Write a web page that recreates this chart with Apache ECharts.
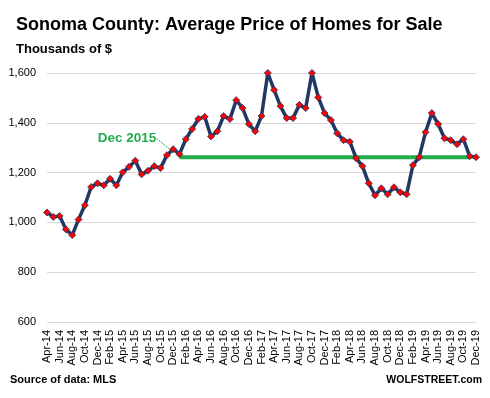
<!DOCTYPE html>
<html>
<head>
<meta charset="utf-8">
<script src="https://cdn.jsdelivr.net/npm/echarts@6/dist/echarts.min.js"></script>
<style>
  html, body { margin: 0; padding: 0; background: #fff; }
  #chart { width: 490px; height: 398px; }
</style>
</head>
<body>
<div id="chart"></div>
<script>
const months = [];
const monthNames = ['Jan', 'Feb', 'Mar', 'Apr', 'May', 'Jun', 'Jul', 'Aug', 'Sep', 'Oct', 'Nov', 'Dec'];
for (let y = 14; y <= 19; y++) {
  for (let m = 0; m < 12; m++) {
    if (y === 14 && m < 3) continue;
    months.push(monthNames[m] + '-' + y);
  }
}

// average price, thousands of $
const prices = [
  1040, 1022, 1026, 972, 949, 1012, 1069, 1142, 1157,
  1149, 1175, 1149, 1201, 1223, 1248, 1193, 1207, 1226, 1218, 1270, 1294,
  1274, 1334, 1375, 1416, 1424, 1345, 1366, 1427, 1415, 1491, 1459, 1395,
  1366, 1427, 1600, 1532, 1467, 1419, 1419, 1472, 1459, 1600, 1502, 1439,
  1411, 1358, 1330, 1324, 1258, 1226, 1157, 1109, 1137, 1113, 1141, 1121,
  1113, 1230, 1262, 1362, 1439, 1395, 1338, 1330, 1314, 1334, 1266, 1262
];

const refLevel = 1262;
const refStart = 'Jan-16';
const refEnd = 'Nov-19';
const yTicks = [600, 800, 1000, 1200, 1400, 1600];

const navy = '#203864';
const green = '#21ad4b';
const font = 'Liberation Sans';

const refData = months.map((m, i) => {
  const a = months.indexOf(refStart), b = months.indexOf(refEnd);
  return (i >= a && i <= b) ? refLevel : null;
});

const priceData = prices.map((v, i) => {
  if (months[i] === 'Dec-15') {
    return {
      value: v,
      label: {
        show: true,
        formatter: 'Dec 2015',
        position: 'left',
        color: green,
        fontFamily: font,
        fontWeight: 'bold',
        fontSize: 13.5
      },
      labelLine: { show: true, lineStyle: { color: green, width: 1, type: [2, 1] } }
    };
  }
  return v;
});

const chart = echarts.init(document.getElementById('chart'), null, { renderer: 'canvas' });
chart.setOption({
  animation: false,
  backgroundColor: '#fff',
  title: [
    {
      text: 'Sonoma County: Average Price of Homes for Sale',
      left: 16, top: 16, padding: 0,
      textStyle: { fontFamily: font, fontWeight: 'bold', fontSize: 18, color: '#000' }
    },
    {
      text: 'Thousands of $',
      left: 16, top: 43, padding: 0,
      textStyle: { fontFamily: font, fontWeight: 'bold', fontSize: 13, color: '#000' }
    },
    {
      text: 'Source of data: MLS',
      left: 10, top: 374, padding: 0,
      textStyle: { fontFamily: font, fontWeight: 'bold', fontSize: 11, color: '#000' }
    },
    {
      text: 'WOLFSTREET.com',
      right: 8, top: 375, padding: 0,
      textStyle: { fontFamily: font, fontWeight: 'bold', fontSize: 10.5, color: '#000' }
    }
  ],
  grid: { left: 47, right: 14, top: 73, bottom: 76 },
  xAxis: {
    type: 'category',
    data: months,
    boundaryGap: false,
    axisLine: { show: false },
    axisTick: { show: false },
    axisLabel: {
      interval: 1,
      rotate: 90,
      margin: 8,
      fontFamily: font,
      fontSize: 11,
      color: '#000'
    },
    splitLine: { show: false }
  },
  yAxis: {
    type: 'value',
    min: yTicks[0],
    max: yTicks[yTicks.length - 1],
    interval: 200,
    axisLine: { show: false },
    axisTick: { show: false },
    axisLabel: {
      margin: 11,
      fontFamily: font,
      fontSize: 11,
      color: '#000',
      formatter: v => v.toLocaleString('en-US')
    },
    splitLine: { lineStyle: { color: '#d9d9d9', width: 1 } }
  },
  series: [
    {
      name: 'Dec 2015 level',
      type: 'line',
      data: refData,
      showSymbol: false,
      lineStyle: { color: green, width: 4 },
      z: 1
    },
    {
      name: 'Average price',
      type: 'line',
      data: priceData,
      symbol: 'diamond',
      symbolSize: 7,
      showAllSymbol: true,
      lineStyle: { color: navy, width: 3.5 },
      itemStyle: { color: '#ff0000', borderColor: navy, borderWidth: 0.8 },
      labelLayout: { dx: -8, dy: -11 },
      z: 2
    }
  ]
});
</script>
</body>
</html>
